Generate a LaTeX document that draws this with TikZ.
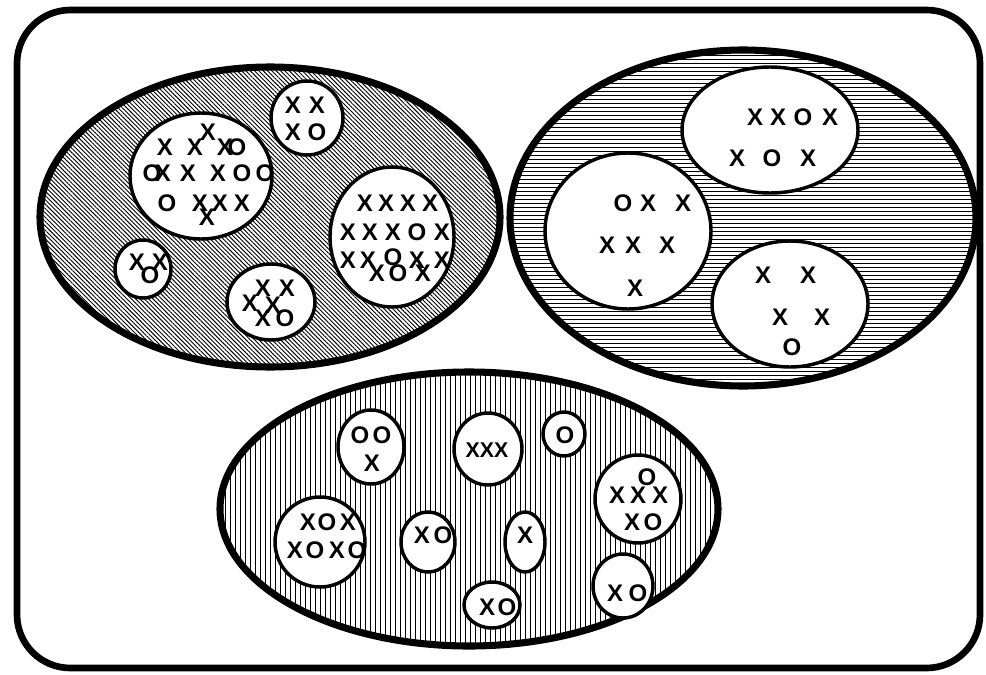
\documentclass[tikz,border=0pt]{standalone}
\usepackage{fontspec}
\setsansfont{Liberation Sans}
\usetikzlibrary{patterns.meta}

\tikzset{
  frameline/.style={line width=5pt, rounded corners=40pt},
  outerset/.style={line width=5.3pt},
  innerset/.style={line width=2.6pt, fill=white},
  glyph/.style={font=\sffamily\bfseries\fontsize{18}{18}\selectfont, inner sep=0pt},
  diaghatch/.style={pattern={Lines[angle=-45,distance=2.3pt,line width=0.7pt]}},
  horizhatch/.style={pattern={Lines[angle=0,distance=3pt,line width=0.65pt]}},
  verthatch/.style={pattern={Lines[angle=90,distance=3.75pt,line width=0.55pt]}}
}

\begin{document}
\begin{tikzpicture}[x=0.75pt,y=0.75pt,yscale=-1,xscale=1]
\useasboundingbox (0,0) rectangle (986,675);

% frame
\draw [frameline] (17,10) rectangle (980,668);

% outer sets
\draw [outerset, diaghatch] (270,217) ellipse [x radius=230, y radius=150];
\draw [outerset, horizhatch] (743,218) ellipse [x radius=233, y radius=168];
\draw [outerset, verthatch] (469,509) ellipse [x radius=249, y radius=137];

% left set: inner sets
\draw [innerset] (201,176) ellipse [x radius=71, y radius=63];
\draw [innerset] (307,118) ellipse [x radius=36, y radius=37];
\draw [innerset] (392,237) ellipse [x radius=62, y radius=70];
\draw [innerset] (143,269) ellipse [x radius=28, y radius=29];
\draw [innerset] (271,302) ellipse [x radius=44, y radius=38];

% right set: inner sets
\draw [innerset] (770,130) ellipse [x radius=88, y radius=63];
\draw [innerset] (628,231) ellipse [x radius=83, y radius=78];
\draw [innerset] (790,304) ellipse [x radius=78, y radius=63];

% bottom set: inner sets
\draw [innerset] (371,447) ellipse [x radius=33, y radius=37];
\draw [innerset] (488,449) ellipse [x radius=34, y radius=36];
\draw [innerset] (564,434) ellipse [x radius=21, y radius=22];
\draw [innerset] (638,499) ellipse [x radius=43, y radius=44];
\draw [innerset] (623,586) ellipse [x radius=30, y radius=32];
\draw [innerset] (320,542) ellipse [x radius=45, y radius=45];
\draw [innerset] (428,542) ellipse [x radius=27, y radius=30];
\draw [innerset] (525,542) ellipse [x radius=20, y radius=30];
\draw [innerset] (492,605) ellipse [x radius=28, y radius=23];

% elements, left set
\foreach \g/\x/\y [count=\i] in {X/165/147, X/195/147, X/208/132, X/225/147, O/237/147,
    O/152/173, X/163/173, X/188/173, X/218/173, O/242/173, O/265/173,
    O/167/203, X/200/203, X/220/203, X/242/203, X/207/217}
  \node [glyph] (la\i) at (\x,\y) {\g};
\foreach \g/\x/\y [count=\i] in {X/293/105, X/317/105, X/293/132, O/317/132}
  \node [glyph] (lb\i) at (\x,\y) {\g};
\foreach \g/\x/\y [count=\i] in {X/365/203, X/386/203, X/408/203, X/430/203,
    X/348/232, X/370/232, X/393/232, O/417/232, X/442/232,
    X/348/260, X/368/260, O/393/257, X/417/260, X/442/260,
    X/377/273, O/398/273, X/423/273}
  \node [glyph] (lc\i) at (\x,\y) {\g};
\foreach \g/\x/\y [count=\i] in {X/137/262, X/160/262, O/150/275}
  \node [glyph] (ld\i) at (\x,\y) {\g};
\foreach \g/\x/\y [count=\i] in {X/263/288, X/287/288, X/250/303, X/273/305, X/263/318, O/285/318}
  \node [glyph] (le\i) at (\x,\y) {\g};

% elements, right set
\foreach \g/\x/\y [count=\i] in {X/755/117, X/778/117, O/803/117, X/830/117,
    X/737/158, O/772/158, X/808/158}
  \node [glyph] (ra\i) at (\x,\y) {\g};
\foreach \g/\x/\y [count=\i] in {O/623/203, X/648/203, X/683/203,
    X/607/245, X/633/245, X/667/245, X/635/288}
  \node [glyph] (rb\i) at (\x,\y) {\g};
\foreach \g/\x/\y [count=\i] in {X/763/275, X/808/275, X/780/317, X/822/317, O/792/347}
  \node [glyph] (rc\i) at (\x,\y) {\g};

% elements, bottom set
\foreach \g/\x/\y [count=\i] in {O/360/435, O/382/435, X/372/463}
  \node [glyph] (ba\i) at (\x,\y) {\g};
\node [glyph, font=\sffamily\bfseries\fontsize{16}{16}\selectfont] (bb1) at (487,450) {XXX};
\node [glyph] (bc1) at (565,435) {O};
\foreach \g/\x/\y [count=\i] in {O/647/477, X/617/495, X/638/495, X/660/495, X/632/522, O/653/522}
  \node [glyph] (bd\i) at (\x,\y) {\g};
\foreach \g/\x/\y [count=\i] in {X/615/593, O/638/593}
  \node [glyph] (be\i) at (\x,\y) {\g};
\foreach \g/\x/\y [count=\i] in {X/308/522, O/327/522, X/348/522,
    X/295/550, O/315/550, X/337/550, O/357/550}
  \node [glyph] (bf\i) at (\x,\y) {\g};
\foreach \g/\x/\y [count=\i] in {X/422/535, O/443/535}
  \node [glyph] (bg\i) at (\x,\y) {\g};
\node [glyph] (bh1) at (525,535) {X};
\foreach \g/\x/\y [count=\i] in {X/487/607, O/507/607}
  \node [glyph] (bi\i) at (\x,\y) {\g};

\end{tikzpicture}
\end{document}
